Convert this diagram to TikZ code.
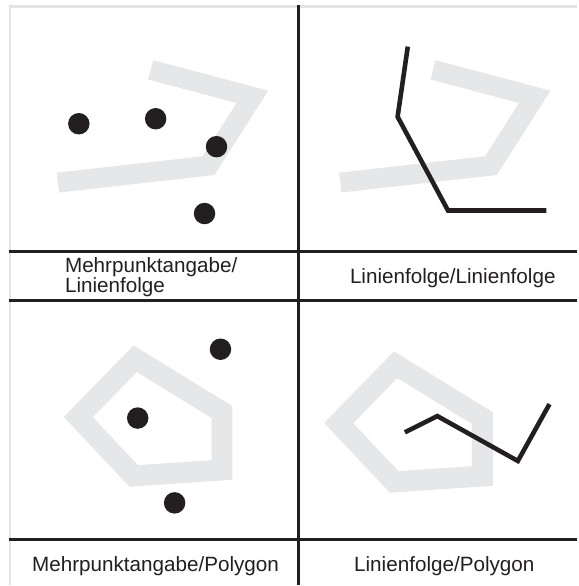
\documentclass[tikz,border=0pt]{standalone}
\usepackage{fontspec}
\setmainfont{Liberation Sans}
\definecolor{bandgrau}{HTML}{E6E7E8}
\definecolor{rahmengrau}{HTML}{E4E4E4}
\definecolor{tinte}{HTML}{231F20}

\begin{document}
\begin{tikzpicture}[x=1pt, y=-1pt, font=\fontsize{20.7}{19.8}\selectfont, text=tinte,
  band/.style={draw=bandgrau, line width=20pt, line join=miter},
  linie/.style={draw=tinte, line width=4.6pt, line join=miter},
  punkt/.style={circle, fill=tinte, minimum size=21.5pt, inner sep=0pt},
  gitter/.style={draw=tinte, line width=2.6pt},
  rahmen/.style={draw=rahmengrau, line width=2.6pt},
  titel/.style={inner sep=0pt}]
\fill[white] (0,0) rectangle (578,586);
\draw[rahmen] (578,6.3) -- (10,6.3) -- (10,586);
\draw[band] (151,70) -- (253,97) -- (209,166) -- (58,183);
\draw[band] (434,70) -- (536,97) -- (492,166) -- (341,183);
\draw[band, line width=21pt] (135.5,359.5) -- (222.5,413) -- (222.5,471) -- (134,477) -- (78.5,418) -- cycle;
\draw[band, line width=21pt] (396.5,365.5) -- (483.5,419) -- (483.5,477) -- (395,483) -- (339.5,424) -- cycle;
\draw[gitter] (299.3,5) -- (299.3,586);
\draw[gitter] (8.7,252) -- (578,252);
\draw[gitter] (8.7,301.3) -- (578,301.3);
\draw[gitter] (8.7,540.8) -- (578,540.8);
\node[punkt] (p1) at (79,124) {};
\node[punkt] (p2) at (156,119) {};
\node[punkt] (p3) at (217,147) {};
\node[punkt] (p4) at (205,214) {};
\node[punkt] (q1) at (221,350) {};
\node[punkt] (q2) at (138,419) {};
\node[punkt] (q3) at (175,504) {};
\draw[linie] (408.7,46.7) -- (398.5,117) -- (449,211) -- (547.7,211);
\draw[linie] (405.7,433.3) -- (438.3,417) -- (519,462) -- (550.7,405);
\node[titel, anchor=north west, align=left] (t1) at (65,258.2) {Mehrpunktangabe/\\Linienfolge};
\node[titel, anchor=base] (t2) at (453.8,284) {Linienfolge/Linienfolge};
\node[titel, anchor=base] (t3) at (155.9,573) {Mehrpunktangabe/Polygon};
\node[titel, anchor=base] (t4) at (445.3,573) {Linienfolge/Polygon};
\end{tikzpicture}
\end{document}
